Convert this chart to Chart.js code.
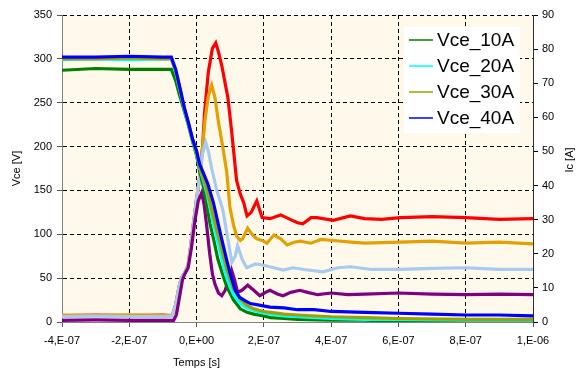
<!DOCTYPE html>
<html><head><meta charset="utf-8">
<script src="https://cdn.jsdelivr.net/npm/chart.js@4"></script>
<style>html,body{margin:0;padding:0;background:#fff}#wrap{width:576px;height:374px}</style>
</head><body><div id="wrap"><canvas id="c" width="576" height="374"></canvas></div>
<script>
// ---- tick labels / titles ----
const xTickLabels = ['-4,E-07','-2,E-07','0,E+00','2,E-07','4,E-07','6,E-07','8,E-07','1,E-06'];
const xTitle = 'Temps [s]';
const yTitle = 'Vce [V]';
const y1Title = 'Ic [A]';

// ---- Vce series (time in ns, voltage in V) ----
const tV10 = [-400,-300,-200,-100,-75,-62,-50,-36,-24,-12,0,9,18,28,40,52,63,76,90,110,130,150,170,200,220,260,300,400,500,600,800,1000];
const vV10 = [287,289,288,288,288,275,258,240,224,206,190,172,158,138,112,92,72,56,40,25,15,11,9,7,5,4,3,2,2,1,1,1];

const tV20 = [-400,-300,-200,-100,-75,-62,-50,-36,-24,-12,0,9,18,30,40,50,60,69,80,90,100,110,130,150,170,200,220,260,300,400,500,600,800,1000];
const vV20 = [299,300,299,300,300,285,265,242,225,207,192,176,164,148,130,112,96,82,64,50,40,31,21,16,13,10,9,7,6,4,3,3,2,2];

const tV30 = [-400,-300,-200,-100,-75,-62,-50,-36,-24,-12,0,9,18,30,40,50,60,69,80,90,100,110,130,150,170,200,220,260,300,400,500,600,800,1000];
const vV30 = [300,300,301,300,300,286,266,243,226,208,193,177,166,152,136,120,105,92,75,60,48,38,26,19,15,12,11,9,8,6,5,4,3,3];

const tV40 = [-400,-300,-200,-100,-75,-62,-50,-36,-24,-12,0,9,20,33,50,69,80,90,100,115,128,145,160,190,218,260,300,350,400,500,600,700,800,900,1000];
const vV40 = [302,302,303,302,302,288,268,244,227,209,195,180,170,158,136,104,86,70,55,36,28,24,21,19,17,16,14,14,12,11,10,9,8,8,7];

// ---- Ic series (time in ns, current in A) ----
const tRed = [-400,-300,-200,-100,-72,-62,-52,-45,-35,-25,-18,-10,0,9,18,24,35,47,57,65,75,85,93,104,112,119,130,140,150,162,179,195,218,250,278,300,316,340,358,406,457,500,550,606,700,800,900,1000];
const iRed = [1.9,2.0,1.9,2.0,1.9,5.1,10.3,12.9,14.4,16.7,21.9,28.3,36.0,42.4,51.4,61.7,73.3,80.2,81.8,79.2,75.1,69.9,65.8,56.1,48.3,41.4,37.5,35.0,31.1,32.1,35.5,30.6,30.3,31.4,30.1,29.1,28.8,30.6,30.6,29.8,31.1,30.3,30.1,30.6,30.9,30.6,30.1,30.3];

const tOr = [-400,-300,-200,-100,-72,-62,-52,-45,-35,-25,-18,-10,0,9,18,25,35,45,55,65,78,90,99,110,119,130,137,152,165,179,195,209,230,250,269,290,307,340,370,406,460,500,606,700,800,900,1000];
const iOr = [2.0,1.9,2.1,1.9,1.9,5.1,10.3,12.9,14.4,16.7,21.9,28.3,36.0,42.4,51.4,59.1,66.3,69.4,65.6,58.6,51.2,43.7,33.7,28.3,25.2,23.9,24.4,27.5,25.7,24.4,23.9,23.1,25.5,24.4,22.6,23.4,23.7,23.1,24.2,23.9,23.4,23.1,23.4,23.7,23.1,23.4,22.9];

const tLb = [-400,-300,-200,-100,-72,-62,-52,-45,-35,-25,-18,-10,0,9,18,27,35,45,60,78,95,105,115,122,135,149,175,197,230,257,287,320,376,420,457,520,606,700,800,900,1000];
const iLb = [1.6,1.7,1.6,1.6,1.7,5.1,10.3,12.9,14.4,16.7,21.9,28.3,36.0,42.4,49.4,52.7,50.1,45.0,38.6,32.9,23.1,17.5,19.3,22.4,18.5,15.9,17.0,16.7,15.9,15.2,15.9,15.4,14.7,15.9,16.2,15.4,15.4,15.7,15.9,15.4,15.4];

const tPu = [-400,-300,-200,-100,-68,-60,-50,-42,-35,-25,-15,-5,5,15,22,30,39,47,54,65,75,85,95,104,113,122,135,152,170,188,205,218,240,257,280,307,330,360,400,450,500,600,700,800,900,1000];
const iPu = [0.5,0.6,0.5,0.5,0.5,2.1,7.7,12.3,14.1,15.9,21.9,29.6,35.5,37.8,34.7,28.3,20.1,14.1,11.3,8.5,7.7,9.3,12.3,15.2,12.3,8.7,9.3,10.8,9.3,7.7,8.7,9.3,8.2,7.7,8.7,9.3,8.7,8.0,8.5,8.0,8.2,8.5,8.2,8.0,8.2,8.0];

const pts = (t, v) => t.map((x, i) => ({x: x, y: v[i]}));

const FONT = "'Liberation Sans', Arial, sans-serif";

const mkSet = (label, t, v, color, axis, order, legend) => ({
  label: label, data: pts(t, v), borderColor: color, backgroundColor: color,
  borderWidth: 3.2, pointRadius: 0, tension: 0, yAxisID: axis, order: order,
  showInLegend: legend
});

const datasets = [
  mkSet('Vce_10A', tV10, vV10, '#008000', 'y', 3, true),
  mkSet('Vce_20A', tV20, vV20, '#00FFFF', 'y', 2, true),
  mkSet('Vce_30A', tV30, vV30, '#A0A000', 'y', 1, true),
  mkSet('Vce_40A', tV40, vV40, '#0000FF', 'y', 0, true),
  mkSet('Ic_40A', tRed, iRed, '#FF0000', 'y1', 7, false),
  mkSet('Ic_30A', tOr, iOr, '#E3A000', 'y1', 6, false),
  mkSet('Ic_20A', tLb, iLb, '#A6CAF0', 'y1', 5, false),
  mkSet('Ic_10A', tPu, iPu, '#800080', 'y1', 4, false)
];

const decor = {
  id: 'decor',
  beforeDraw(chart) {
    const {ctx, chartArea: a} = chart;
    ctx.save();
    ctx.fillStyle = '#FFF9EC';
    ctx.fillRect(a.left, a.top, a.right - a.left, a.bottom - a.top);
    ctx.restore();
  },
  afterDraw(chart) {
    const {ctx} = chart;
    const xs = chart.scales.x;
    ctx.save();
    ctx.fillStyle = '#000';
    ctx.font = '11px ' + FONT;
    ctx.textAlign = 'center';
    ctx.textBaseline = 'middle';
    // x title
    ctx.fillText(xTitle, xs.getPixelForValue(0), 363);
    // right title, reading bottom-to-top
    ctx.translate(570, 160);
    ctx.rotate(-Math.PI / 2);
    ctx.fillText(y1Title, 0, 0);
    ctx.restore();

    // legend
    const items = chart.data.datasets.filter(d => d.showInLegend);
    ctx.save();
    ctx.fillStyle = '#FFFFFF';
    ctx.fillRect(404, 27, 116, 106);
    ctx.font = '19px ' + FONT;
    ctx.textAlign = 'left';
    ctx.textBaseline = 'middle';
    items.forEach((d, i) => {
      const y = 40 + i * 26;
      ctx.strokeStyle = d.borderColor;
      ctx.lineWidth = 1.5;
      ctx.beginPath();
      ctx.moveTo(409, y); ctx.lineTo(433, y);
      ctx.stroke();
      ctx.fillStyle = '#000';
      ctx.fillText(d.label, 437, y + 1);
    });
    ctx.restore();
  }
};

new Chart(document.getElementById('c'), {
  type: 'line',
  data: { datasets: datasets },
  plugins: [decor],
  options: {
    responsive: false,
    animation: false,
    devicePixelRatio: 1,
    layout: { padding: { top: 15, left: 0, right: 0, bottom: 0 } },
    plugins: { legend: { display: false }, tooltip: { enabled: false } },
    scales: {
      x: {
        type: 'linear', min: -400, max: 1000,
        afterFit: s => { s.height = 52; },
        ticks: { stepSize: 200, autoSkip: false, maxRotation: 0, padding: 7, color: '#000',
                 font: { family: FONT, size: 11 },
                 callback: (v, i) => xTickLabels[i] },
        grid: { color: '#000', lineWidth: 1, tickLength: 5, tickColor: '#555', tickBorderDash: [] },
        border: { display: true, color: '#808080', width: 1, dash: [4, 3] }
      },
      y: {
        type: 'linear', position: 'left', min: 0, max: 350,
        afterFit: s => { s.width = 62; },
        ticks: { stepSize: 50, padding: 5, color: '#000', font: { family: FONT, size: 11 } },
        grid: { color: '#000', lineWidth: 1, tickLength: 5, tickColor: '#555', tickBorderDash: [] },
        border: { display: true, color: '#808080', width: 1, dash: [4, 3] },
        title: { display: true, text: yTitle, color: '#000', font: { family: FONT, size: 11 }, padding: { top: 10, bottom: 0 } }
      },
      y1: {
        type: 'linear', position: 'right', min: 0, max: 90,
        afterFit: s => { s.width = 43; },
        ticks: { stepSize: 10, padding: 4, color: '#000', font: { family: FONT, size: 11 } },
        grid: { drawOnChartArea: false, tickLength: 5, tickColor: '#000', color: '#000' },
        border: { display: true, color: '#303030', width: 1 }
      }
    }
  }
});
</script>
</body></html>
